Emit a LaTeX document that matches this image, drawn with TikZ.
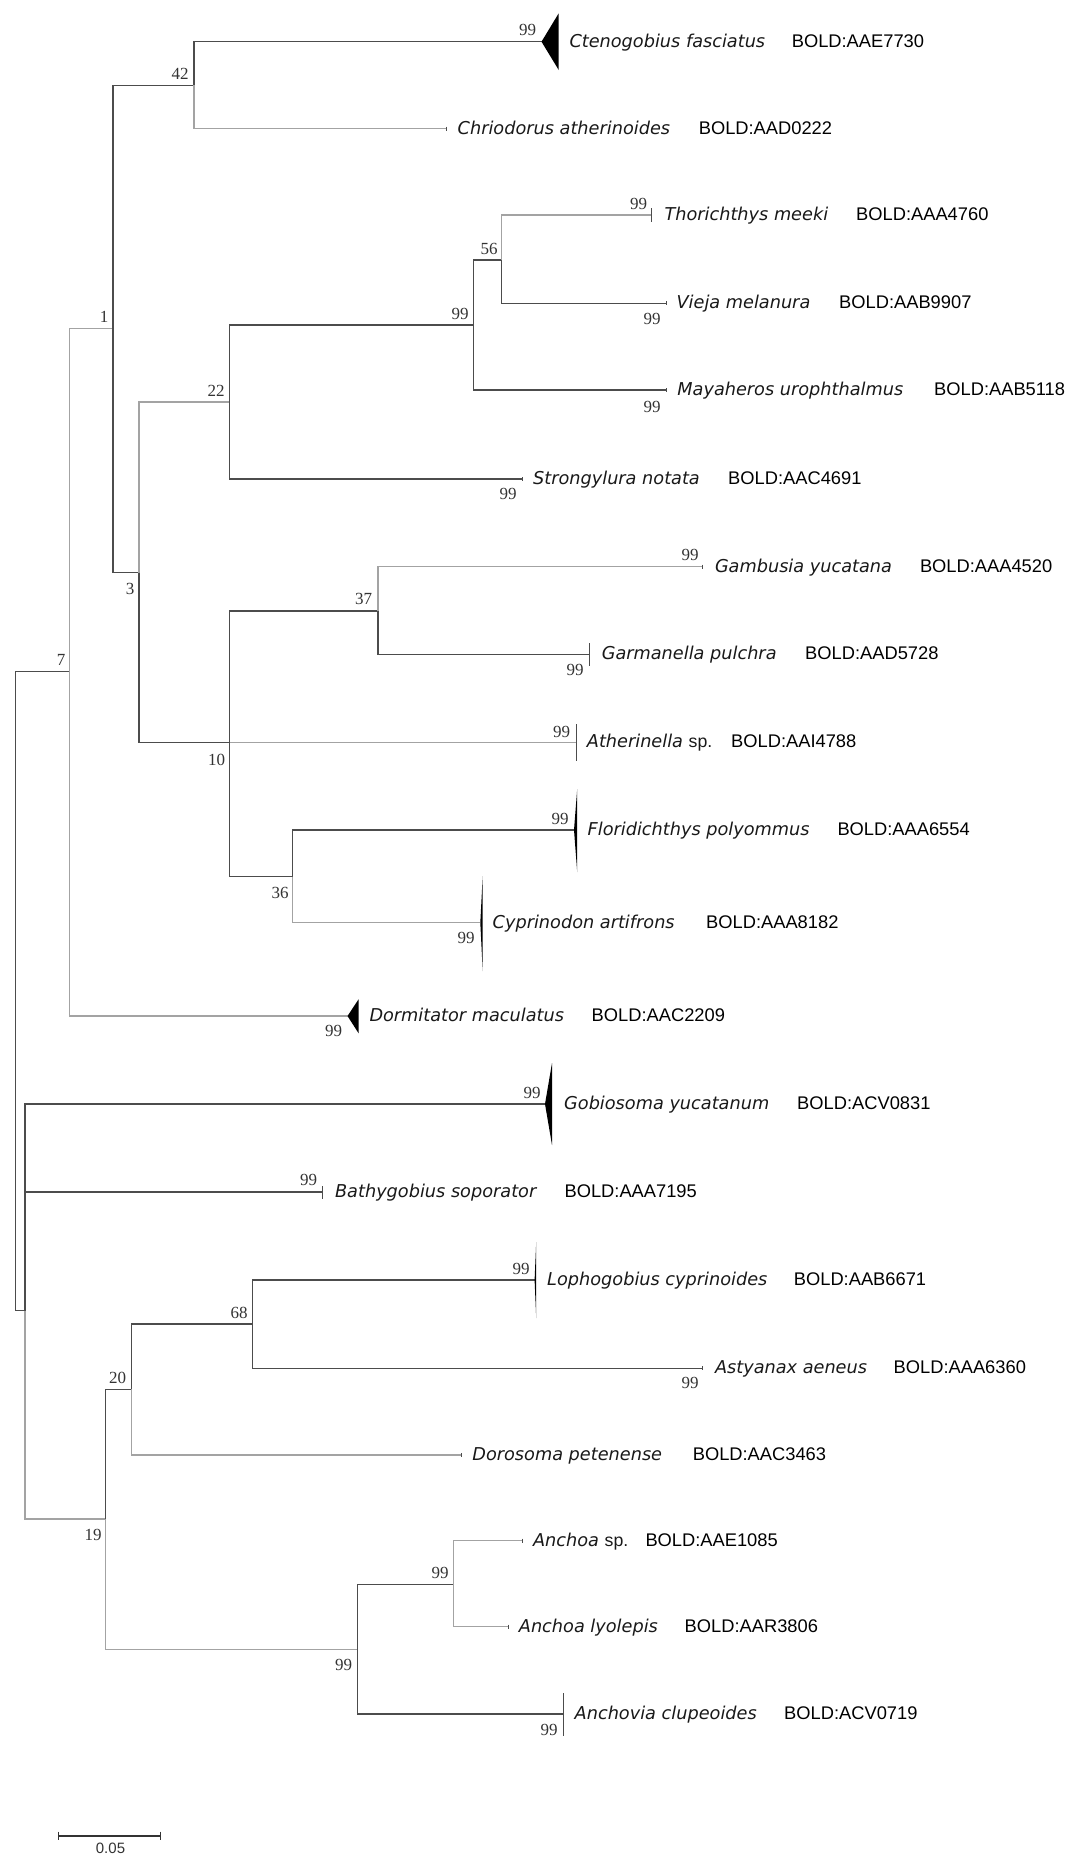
\documentclass[tikz,border=0pt]{standalone}
\usepackage{fontspec}
\setmainfont{Liberation Serif}
\newfontfamily\spf{DejaVu Sans}
\newfontfamily\bolf{Liberation Sans}
\usetikzlibrary{calc}
\begin{document}
\begin{tikzpicture}[x=1pt,y=-1pt,
 br/.style={draw=black!70,line width=1.2pt},
 lbr/.style={draw=black!36,line width=1.2pt},
 sp/.style={anchor=base west,inner sep=0pt,font=\spf\itshape\fontsize{17.7}{20}\selectfont,text=black!90},
 bd/.style={anchor=base west,inner sep=0pt,font=\bolf\fontsize{18.3}{20}\selectfont},
 sv/.style={inner sep=0pt,font=\fontsize{17}{19}\selectfont,text=black!80},
 clade/.style={fill=black},
 tick/.style={draw=black!70,line width=1pt}]
\useasboundingbox[fill=white] (0,0) rectangle (1084,1866);
% inner nodes
\coordinate (R) at (15.3,991);
\coordinate (N7) at (69.7,671.7);
\coordinate (N1) at (112.9,328.3);
\coordinate (N42) at (194,85.3);
\coordinate (N3) at (139,572.7);
\coordinate (N22) at (229.6,402);
\coordinate (Nc) at (473.4,325);
\coordinate (N56) at (501.3,260);
\coordinate (N10) at (229.6,742.3);
\coordinate (N37) at (378,611);
\coordinate (N36) at (292.8,876.7);
\coordinate (NG) at (24.9,1310.7);
\coordinate (N19) at (105.2,1519);
\coordinate (N20) at (131.3,1389.3);
\coordinate (N68) at (252.6,1324);
\coordinate (Na) at (357.8,1649.3);
\coordinate (Nb) at (453.5,1584.3);
% tips
\coordinate (tCte) at (541.5,41.7);
\coordinate (tChr) at (445.8,128.7);
\coordinate (tTho) at (651,215);
\coordinate (tVie) at (666.3,303.3);
\coordinate (tMay) at (666.3,390);
\coordinate (tStr) at (522.4,479);
\coordinate (tGam) at (702.7,566.7);
\coordinate (tGar) at (589.5,654.3);
\coordinate (tAth) at (576,742.3);
\coordinate (tFlo) at (574,830);
\coordinate (tCyp) at (480.3,922.7);
\coordinate (tDor) at (347.5,1016);
\coordinate (tGob) at (545,1104);
\coordinate (tBat) at (322.2,1192);
\coordinate (tLop) at (534.6,1280);
\coordinate (tAst) at (702.7,1368.3);
\coordinate (tDrs) at (461.2,1455);
\coordinate (tAsp) at (522.4,1540.7);
\coordinate (tAly) at (508.2,1626.7);
\coordinate (tAcl) at (563.3,1714);
% branches
\draw[br] (R) |- (N7);
\draw[br] (R) |- (NG);
\draw[lbr] (N7) |- (N1);
\draw[lbr] (N7) |- (tDor);
\draw[br] (N1) |- (N42);
\draw[br] (N1) |- (N3);
\draw[br] (N42) |- (tCte);
\draw[lbr] (N42) |- (tChr);
\draw[lbr] (N3) |- (N22);
\draw[br] (N3) |- (N10);
\draw[br] (N22) |- (Nc);
\draw[br] (N22) |- (tStr);
\draw[br] (Nc) |- (N56);
\draw[br] (Nc) |- (tMay);
\draw[lbr] (N56) |- (tTho);
\draw[br] (N56) |- (tVie);
\draw[br] (N10) |- (N37);
\draw[lbr] (N10) |- (tAth);
\draw[br] (N10) |- (N36);
\draw[lbr] (N37) |- (tGam);
\draw[br] (N37) |- (tGar);
\draw[br] (N36) |- (tFlo);
\draw[lbr] (N36) |- (tCyp);
\draw[br] (NG) |- (tGob);
\draw[br] (NG) |- (tBat);
\draw[lbr] (NG) |- (N19);
\draw[br] (N19) |- (N20);
\draw[lbr] (N19) |- (Na);
\draw[br] (N20) |- (N68);
\draw[lbr] (N20) |- (tDrs);
\draw[br] (N68) |- (tLop);
\draw[br] (N68) |- (tAst);
\draw[br] (Na) |- (Nb);
\draw[br] (Na) |- (tAcl);
\draw[lbr] (Nb) |- (tAsp);
\draw[lbr] (Nb) |- (tAly);
% collapsed clades
\fill[clade] (tCte) -- ++(17.2,-28.4) -- ++(0,56.7) -- cycle;
\fill[clade] (tDor) -- ++(11.1,-16.7) -- ++(0,34) -- cycle;
\fill[clade] (tGob) -- ++(7,-41) -- ++(0,82) -- cycle;
\fill[clade] (tFlo) -- ++(3.2,-41) -- ++(0,83) -- cycle;
\fill[clade] (tCyp) -- ++(2.4,-46.7) -- ++(0,95) -- cycle;
\fill[clade] (tLop) -- ++(1.6,-38) -- ++(0,76) -- cycle;
\draw[tick] ($(tAth)+(0,-18)$) -- ($(tAth)+(0,19)$);
\draw[tick] ($(tAcl)+(0,-21)$) -- ($(tAcl)+(0,22)$);
\draw[tick] ($(tTho)+(0,-7)$) -- ($(tTho)+(0,7)$);
\draw[tick] ($(tGar)+(0,-11)$) -- ($(tGar)+(0,12)$);
\draw[tick] ($(tBat)+(0,-6)$) -- ($(tBat)+(0,7)$);
\foreach \t in {tChr,tVie,tMay,tStr,tGam,tAst,tDrs,tAsp,tAly}
  \draw[tick,line width=0.6pt] ($(\t)+(0,-2)$) -- ($(\t)+(0,2)$);
% taxon labels
\node[sp] (sCte) at (569.3,47.2) {Ctenogobius fasciatus};
\node[bd] (bCte) at (791.6,47.2) {BOLD:AAE7730};
\node[sp] (sChr) at (457.5,134.2) {Chriodorus atherinoides};
\node[bd] (bChr) at (698.6,134.2) {BOLD:AAD0222};
\node[sp] (sTho) at (664.3,220.5) {Thorichthys meeki};
\node[bd] (bTho) at (856,220.5) {BOLD:AAA4760};
\node[sp] (sVie) at (676.4,308.8) {Vieja melanura};
\node[bd] (bVie) at (839,308.8) {BOLD:AAB9907};
\node[sp] (sMay) at (677.2,395.5) {Mayaheros urophthalmus};
\node[bd] (bMay) at (934,395.5) {BOLD:AAB5118};
\node[sp] (sStr) at (532.9,484.5) {Strongylura notata};
\node[bd] (bStr) at (728,484.5) {BOLD:AAC4691};
\node[sp] (sGam) at (714.8,572.2) {Gambusia yucatana};
\node[bd] (bGam) at (919.8,572.2) {BOLD:AAA4520};
\node[sp] (sGar) at (601.6,659.8) {Garmanella pulchra};
\node[bd] (bGar) at (805,659.8) {BOLD:AAD5728};
\node[sp] (sAth) at (586.7,747.8) {Atherinella {\bolf\upshape sp.}};
\node[bd] (bAth) at (731,747.8) {BOLD:AAI4788};
\node[sp] (sFlo) at (587.5,835.5) {Floridichthys polyommus};
\node[bd] (bFlo) at (837.3,835.5) {BOLD:AAA6554};
\node[sp] (sCyp) at (492.5,928.2) {Cyprinodon artifrons};
\node[bd] (bCyp) at (706,928.2) {BOLD:AAA8182};
\node[sp] (sDor) at (369.3,1021.5) {Dormitator maculatus};
\node[bd] (bDor) at (591.5,1021.5) {BOLD:AAC2209};
\node[sp] (sGob) at (564,1109.5) {Gobiosoma yucatanum};
\node[bd] (bGob) at (797,1109.5) {BOLD:ACV0831};
\node[sp] (sBat) at (334.9,1197.5) {Bathygobius soporator};
\node[bd] (bBat) at (564.4,1197.5) {BOLD:AAA7195};
\node[sp] (sLop) at (547,1285.5) {Lophogobius cyprinoides};
\node[bd] (bLop) at (793.7,1285.5) {BOLD:AAB6671};
\node[sp] (sAst) at (714.8,1373.8) {Astyanax aeneus};
\node[bd] (bAst) at (893.5,1373.8) {BOLD:AAA6360};
\node[sp] (sDrs) at (472.2,1460.5) {Dorosoma petenense};
\node[bd] (bDrs) at (692.6,1460.5) {BOLD:AAC3463};
\node[sp] (sAsp) at (532.9,1546.2) {Anchoa {\bolf\upshape sp.}};
\node[bd] (bAsp) at (645.3,1546.2) {BOLD:AAE1085};
\node[sp] (sAly) at (518.7,1632.2) {Anchoa lyolepis};
\node[bd] (bAly) at (684.5,1632.2) {BOLD:AAR3806};
\node[sp] (sAcl) at (574.5,1719.5) {Anchovia clupeoides};
\node[bd] (bAcl) at (784,1719.5) {BOLD:ACV0719};
% support values
\node[sv] (v1) at (527.5,30) {99};
\node[sv] (v2) at (180,74) {42};
\node[sv] (v3) at (489,249) {56};
\node[sv] (v4) at (460,314) {99};
\node[sv] (v5) at (638.6,204) {99};
\node[sv] (v6) at (652,319) {99};
\node[sv] (v7) at (652,406.5) {99};
\node[sv] (v8) at (104,317) {1};
\node[sv] (v9) at (216,391) {22};
\node[sv] (v10) at (508,494) {99};
\node[sv] (v11) at (130,589) {3};
\node[sv] (v12) at (363.5,599) {37};
\node[sv] (v13) at (575,670) {99};
\node[sv] (v14) at (690,555) {99};
\node[sv] (v15) at (61,660) {7};
\node[sv] (v16) at (561.5,731.5) {99};
\node[sv] (v17) at (216.5,759.5) {10};
\node[sv] (v18) at (560,819) {99};
\node[sv] (v19) at (280,893) {36};
\node[sv] (v20) at (466,938) {99};
\node[sv] (v21) at (333.5,1031) {99};
\node[sv] (v22) at (532,1093) {99};
\node[sv] (v23) at (308.5,1180) {99};
\node[sv] (v24) at (521,1269) {99};
\node[sv] (v25) at (239,1313) {68};
\node[sv] (v26) at (690,1383) {99};
\node[sv] (v27) at (117.7,1378) {20};
\node[sv] (v28) at (93,1535) {19};
\node[sv] (v29) at (343.5,1665) {99};
\node[sv] (v30) at (440,1573) {99};
\node[sv] (v31) at (549,1730) {99};
% scale bar
\coordinate (sbL) at (58.6,1835.7);
\coordinate (sbR) at (160.7,1835.7);
\draw[line width=1.6pt,black!80] (sbL) -- (sbR);
\draw[line width=1.2pt,black!80] ($(sbL)+(0,-4)$) -- ($(sbL)+(0,4)$);
\draw[line width=1.2pt,black!80] ($(sbR)+(0,-4)$) -- ($(sbR)+(0,4)$);
\node[inner sep=0pt,font=\bolf\fontsize{15}{17}\selectfont,text=black!80] (sbT) at (110.5,1848) {0.05};
\end{tikzpicture}
\end{document}
